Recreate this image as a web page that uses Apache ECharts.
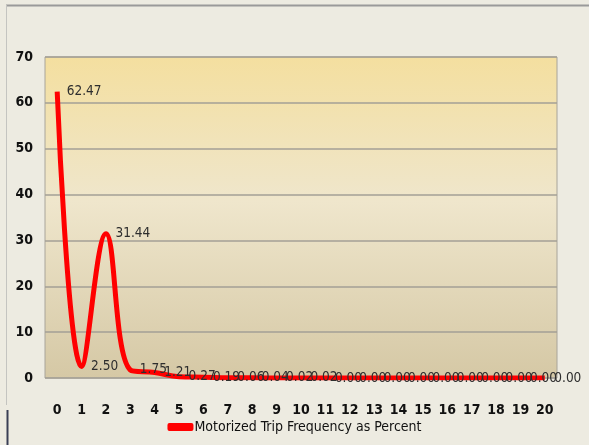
<!DOCTYPE html>
<html>
<head>
<meta charset="utf-8">
<script src="https://cdn.jsdelivr.net/npm/echarts@6/dist/echarts.min.js"></script>
<style>
  html, body { margin: 0; padding: 0; background: #edebe1; }
  #chart { width: 589px; height: 445px; }
</style>
</head>
<body>
<div id="chart"></div>
<script>
// trips per day (0..20) and share of people, in percent
const tripCounts = ['0', '1', '2', '3', '4', '5', '6', '7', '8', '9', '10',
  '11', '12', '13', '14', '15', '16', '17', '18', '19', '20'];
const tripPercent = [62.47, 2.50, 31.44, 1.75, 1.21, 0.27, 0.19, 0.06, 0.04, 0.02, 0.02,
  0.00, 0.00, 0.00, 0.00, 0.00, 0.00, 0.00, 0.00, 0.00, 0.00];
const seriesName = 'Motorized Trip Frequency as Percent';

const narrow = '"Liberation Sans Narrow", "DejaVu Sans Condensed", sans-serif';

const chart = echarts.init(document.getElementById('chart'));

chart.setOption({
  backgroundColor: '#edebe1',
  animation: false,
  graphic: [
    // frame lines of the original slide
    { type: 'line', shape: { x1: 6, y1: 5.5, x2: 589, y2: 5.5 }, style: { stroke: '#9a9a9a', lineWidth: 2 } },
    { type: 'line', shape: { x1: 6.5, y1: 5, x2: 6.5, y2: 405 }, style: { stroke: '#c4c4c0', lineWidth: 1 } },
    { type: 'line', shape: { x1: 7.5, y1: 410, x2: 7.5, y2: 445 }, style: { stroke: '#3a3f55', lineWidth: 2 } }
  ],
  grid: {
    left: 45, right: 32, top: 57, bottom: 67,
    show: true,
    borderColor: '#a8a49a',
    borderWidth: 1,
    backgroundColor: {
      type: 'linear', x: 0, y: 0, x2: 0, y2: 1,
      colorStops: [
        { offset: 0, color: '#f4df9f' },
        { offset: 0.45, color: '#efe6cc' },
        { offset: 1, color: '#d5c8a5' }
      ]
    }
  },
  legend: {
    bottom: 6,
    left: 'center',
    icon: 'roundRect',
    itemWidth: 26,
    itemHeight: 8,
    itemGap: 0,
    itemStyle: { color: '#ff0000', opacity: 1 },
    lineStyle: { opacity: 0 },
    textStyle: { fontFamily: narrow, fontSize: 14, color: '#111', padding: [0, 0, 0, -4] },
    data: [seriesName]
  },
  xAxis: {
    type: 'category',
    data: tripCounts,
    boundaryGap: true,
    axisLine: { show: false },
    axisTick: { show: false },
    axisLabel: { fontFamily: narrow, fontWeight: 'bold', fontSize: 14, color: '#111', margin: 25, interval: 0 }
  },
  yAxis: {
    type: 'value',
    min: 0, max: 70, interval: 10,
    axisLine: { show: false },
    axisTick: { show: false },
    splitLine: { lineStyle: { color: '#a39f96', width: 1.5 } },
    axisLabel: { fontFamily: narrow, fontWeight: 'bold', fontSize: 14, color: '#111', margin: 12 }
  },
  series: [{
    name: seriesName,
    type: 'line',
    data: tripPercent,
    smooth: 0.4,
    showSymbol: false,
    color: '#ff0000',
    lineStyle: { color: '#ff0000', width: 5 },
    z: 2
  }, {
    // same values again, only to put the data labels above the red line
    name: 'labels',
    type: 'line',
    data: tripPercent,
    z: 5,
    symbol: 'circle',
    symbolSize: 1,
    showSymbol: true,
    itemStyle: { color: 'rgba(255,0,0,0)' },
    lineStyle: { width: 0, opacity: 0 },
    silent: true,
    label: {
      show: true,
      position: 'right',
      distance: 9,
      formatter: p => p.value.toFixed(2),
      fontFamily: narrow,
      fontSize: 13.5,
      color: '#2e2e2e'
    },
    labelLayout: { hideOverlap: false }
  }]
});
</script>
</body>
</html>
